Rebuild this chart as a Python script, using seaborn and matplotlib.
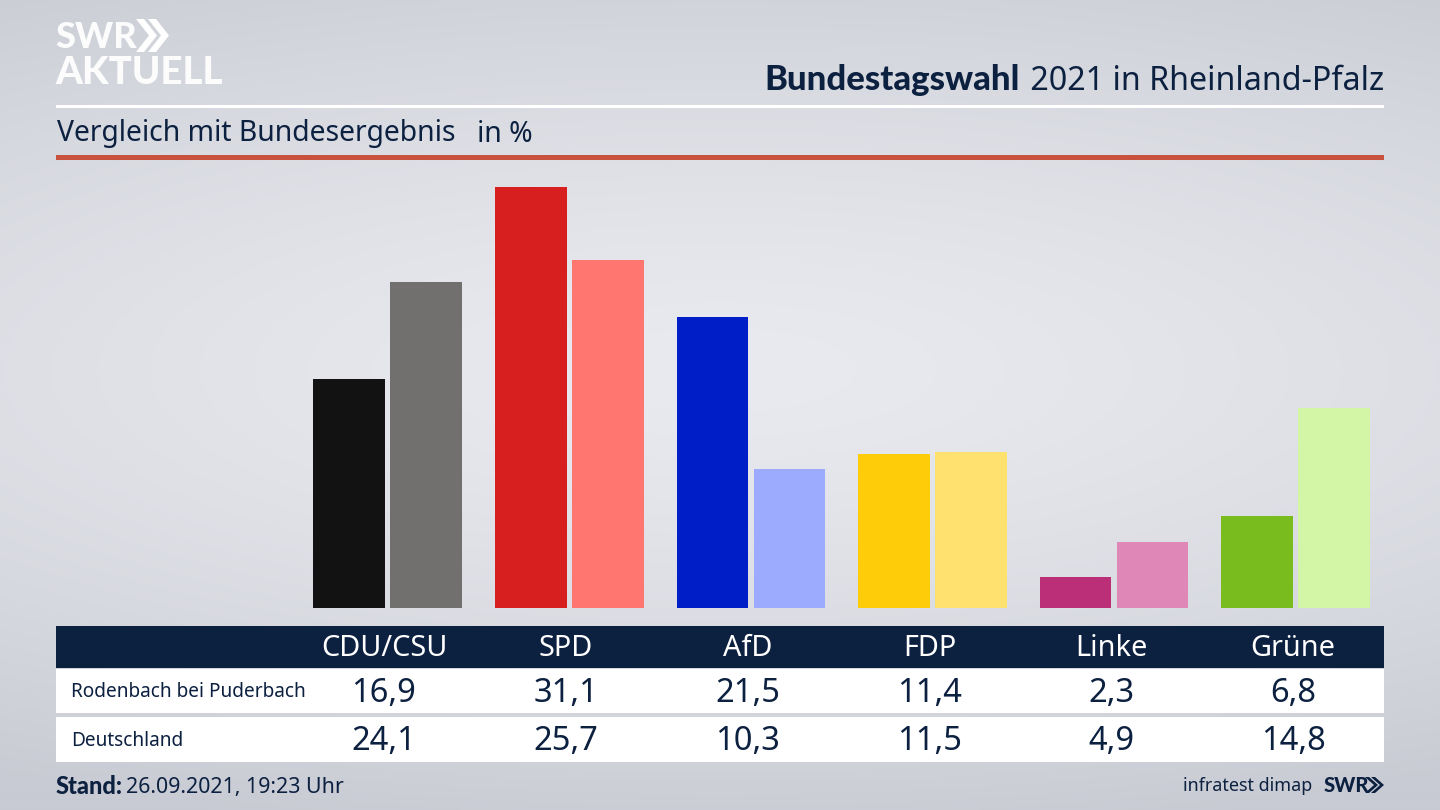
import numpy as np
import pandas as pd
import matplotlib.pyplot as plt
from matplotlib.patches import Polygon, Rectangle
import seaborn as sns

# Daten
parteien = ['CDU/CSU', 'SPD', 'AfD', 'FDP', 'Linke', 'Grüne']
gebiete = ['Rodenbach bei Puderbach', 'Deutschland']
werte_rodenbach = [16.9, 31.1, 21.5, 11.4, 2.3, 6.8]
werte_deutschland = [24.1, 25.7, 10.3, 11.5, 4.9, 14.8]
farben_rodenbach = ['#121212', '#d71f1f', '#001ec8', '#ffcc0a', '#bb2e78', '#78bc1e']
farben_deutschland = ['#72706e', '#ff7570', '#9dabff', '#ffe170', '#df88b8', '#d2f5a6']

NAVY = '#0c2040'
FETT = ['Lato', 'DejaVu Sans']

data = pd.DataFrame({
    'partei': parteien * 2,
    'gebiet': [gebiete[0]] * 6 + [gebiete[1]] * 6,
    'wert': werte_rodenbach + werte_deutschland,
})

sns.set_theme(style='white')
plt.rcParams['font.family'] = ['Noto Sans', 'DejaVu Sans']

fig = plt.figure(figsize=(14.4, 8.1), dpi=100)

# Hintergrund in Pixelkoordinaten
bg = fig.add_axes([0, 0, 1, 1])
bg.set_xlim(0, 1440)
bg.set_ylim(810, 0)
bg.axis('off')
yy, xx = np.mgrid[0:810:400j, 0:1440:600j]
dist = np.sqrt(((xx - 720) / 1500) ** 2 + ((yy - 370) / 470) ** 2)
bg.imshow(np.clip(dist, 0, 1) ** 1.4, cmap=sns.blend_palette(['#e9eaef', '#c8cbd3'], as_cmap=True),
          extent=[0, 1440, 810, 0], aspect='auto', vmin=0, vmax=1, zorder=0)

# Linien oben
bg.add_patch(Rectangle((56, 104.5), 1328, 3, color='white', lw=0))
bg.add_patch(Rectangle((56, 155), 1328, 5, color='#c9523f', lw=0))

# Tabelle
bg.add_patch(Rectangle((56, 626), 1328, 42, color=NAVY, lw=0))
bg.add_patch(Rectangle((56, 669), 1328, 44, color='white', lw=0))
bg.add_patch(Rectangle((56, 717), 1328, 45, color='white', lw=0))

spalten = [384, 566, 748, 930, 1111, 1293]
for x, name, a, b in zip(spalten, parteien, werte_rodenbach, werte_deutschland):
    bg.text(x, 649, name, color='white', fontsize=20.8, ha='center', va='center')
    bg.text(x, 693, f'{a:.1f}'.replace('.', ','), color=NAVY, fontsize=23.5, ha='center', va='center')
    bg.text(x, 742, f'{b:.1f}'.replace('.', ','), color=NAVY, fontsize=23.5, ha='center', va='center')
bg.text(71, 692, gebiete[0], color=NAVY, fontsize=13.7, ha='left', va='center')
bg.text(71, 741, gebiete[1], color=NAVY, fontsize=13.7, ha='left', va='center')

# Titel
t1 = bg.text(1384, 82, ' 2021 in Rheinland-Pfalz', color=NAVY, fontsize=23.2, ha='right', va='center')
fig.canvas.draw()
breite = t1.get_window_extent().width
bg.text(1384 - breite - 2, 80, 'Bundestagswahl', color=NAVY, fontsize=25, fontweight='black', family=FETT,
        ha='right', va='center')
bg.text(57, 134, 'Vergleich mit Bundesergebnis', color=NAVY, fontsize=20.4, ha='left', va='center')
bg.text(477, 134, 'in %', color=NAVY, fontsize=20.4, ha='left', va='center')

# Fußzeile
bg.text(56, 787, 'Stand:', color=NAVY, fontsize=17, fontweight='black', family=FETT, ha='left', va='center')
bg.text(126, 788, '26.09.2021, 19:23 Uhr', color=NAVY, fontsize=15.4, ha='left', va='center')
bg.text(1312, 786, 'infratest dimap', color=NAVY, fontsize=12.9, ha='right', va='center')
bg.text(1324, 785, 'SWR', color=NAVY, fontsize=14.5, fontweight='black', family=FETT, ha='left', va='center')


def chevrons(x0, y0, y1, w, step, dicke, farbe):
    # Doppelpfeil vom SWR-Logo
    mid = (y0 + y1) / 2
    for i in range(2):
        x = x0 + i * step
        bg.add_patch(Polygon([(x, y0), (x + dicke, y0), (x + dicke + w, mid),
                              (x + dicke, y1), (x, y1), (x + w, mid)],
                             color=farbe, lw=0))


chevrons(1365, 777, 793, 9, 6, 4, NAVY)

# Logo oben links
bg.text(55, 37, 'SWR', color='white', fontsize=26, fontweight='black', family=FETT, ha='left', va='center', alpha=0.95)
chevrons(136, 19, 52, 13, 12, 8, 'white')
bg.text(55, 73, 'AKTUELL', color='white', fontsize=27.6, fontweight='black', family=FETT, ha='left', va='center', alpha=0.95)

# Balken: x-Achse so, dass die Gruppen bei 387.5 ... 1295 px liegen
ax = fig.add_axes([297 / 1440, (810 - 608) / 810, (1386.3 - 297) / 1440, (608 - 160) / 810])
ax.patch.set_alpha(0)
sns.barplot(data=data, x='partei', y='wert', hue='gebiet', order=parteien, hue_order=gebiete,
            width=0.848, gap=0.07, legend=False, ax=ax, saturation=1)
for cont, farben in zip(ax.containers, [farben_rodenbach, farben_deutschland]):
    for bar, farbe in zip(cont, farben):
        bar.set_facecolor(farbe)
        bar.set_edgecolor('none')
ax.set_xlim(-0.5, 5.5)
ax.set_ylim(0, 33.09)
ax.axis('off')

fig.savefig('out.png', dpi=100)
